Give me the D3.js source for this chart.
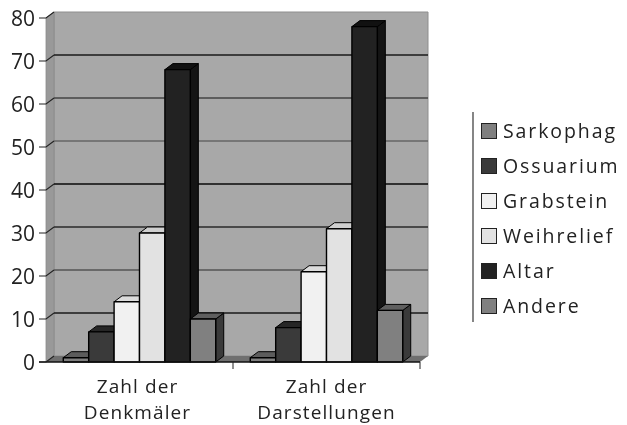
<!DOCTYPE html>
<html><head><meta charset="utf-8">
<script src="https://cdn.jsdelivr.net/npm/d3@7"></script>
<style>html,body{margin:0;background:#fff}svg{display:block;font-family:"Open Sans",sans-serif;filter:blur(.45px)}</style>
</head><body><svg id="c" width="627" height="425"></svg>
<script>
const categories=[["Zahl der","Denkmäler"],["Zahl der","Darstellungen"]];
const seriesNames=["Sarkophag","Ossuarium","Grabstein","Weihrelief","Altar","Andere"];
const denkmaeler=[1,7,14,30,68,10];
const darstellungen=[1,8,21,31,78,12];
const yTicks=[0,10,20,30,40,50,60,70,80];
const fronts=["#7f7f7f","#3a3a3a","#f1f1f1","#e2e2e2","#222222","#808080"];
const tops=["#5c5c5c","#262626","#dcdcdc","#cfcfcf","#111111","#5f5f5f"];
const sides=["#3c3c3c","#1f1f1f","#8c8c8c","#8a8a8a","#141414","#3a3a3a"];
const dx=8,dy=-6;
const svg=d3.select("#c");
const y=d3.scaleLinear().domain([0,80]).range([362,18]);
const x0=d3.scaleBand().domain([0,1]).range([46,420]);
const x1=d3.scaleBand().domain(d3.range(seriesNames.length)).range([0,x0.bandwidth()]).paddingOuter(.68).paddingInner(0);
const poly=(pts,f,s,w)=>svg.append("polygon").attr("points",pts.map(p=>p.join(",")).join(" ")).attr("fill",f).attr("stroke",s||"none").attr("stroke-width",w||0).attr("stroke-linejoin","round");
const L=x0.range()[0],R=x0.range()[1],B=y(0),T=y(80);
poly([[L+dx,T+dy],[R+dx,T+dy],[R+dx,B+dy],[L+dx,B+dy]],"#a8a8a8","#8e8e8e",1);
poly([[L,T],[L+dx,T+dy],[L+dx,B+dy],[L,B]],"#999999","#8a8a8a",.8);
poly([[L,B],[L+dx,B+dy],[R+dx,B+dy],[R,B]],"#6f6f6f");
const gridStroke={10:"#1a1a1a",20:"#555",30:"#2a2a2a",40:"#0a0a0a",50:"#666",60:"#444",70:"#1a1a1a"};
yTicks.filter(t=>t>0&&t<80).forEach(t=>svg.append("line").attr("x1",L+dx).attr("x2",R+dx).attr("y1",y(t)+dy).attr("y2",y(t)+dy).attr("stroke",gridStroke[t]).attr("stroke-width",1.4));
[denkmaeler,darstellungen].forEach((vals,g)=>{
  vals.forEach((v,i)=>{
    const a=x0(g)+x1(i),b=a+x1.bandwidth(),t=y(v);
    poly([[b,t],[b+dx,t+dy],[b+dx,B+dy],[b,B]],sides[i],"#000",1);
    poly([[a,t],[a+dx,t+dy],[b+dx,t+dy],[b,t]],tops[i],"#000",1);
    poly([[a,t],[b,t],[b,B],[a,B]],fronts[i],"#000",1.4);
  });
});
svg.append("line").attr("x1",39).attr("x2",R).attr("y1",B).attr("y2",B).attr("stroke","#111").attr("stroke-width",1.4);
yTicks.forEach(t=>{
  svg.append("path").attr("d",`M39,${y(t)}H${L}L${L+dx},${y(t)+dy}`).attr("fill","none").attr("stroke","#222").attr("stroke-width",1.1);
  svg.append("text").attr("x",35).attr("y",y(t)+7.5).attr("text-anchor","end").attr("font-size",21).attr("fill","#222").text(t);
});
[1,2].forEach(i=>svg.append("line").attr("x1",L+i*x0.step()).attr("x2",L+i*x0.step()).attr("y1",B).attr("y2",B+7).attr("stroke","#222"));
categories.forEach((c,g)=>{
  c.forEach((s,k)=>svg.append("text").attr("x",x0(g)+x0.bandwidth()/2-(g?0:2)).attr("y",393+k*25.5).attr("text-anchor","middle").attr("font-size",19).attr("letter-spacing",1.1).attr("fill","#222").text(s));
});
const ly=d3.scalePoint().domain(seriesNames).range([131,306]);
svg.append("line").attr("x1",473).attr("x2",473).attr("y1",112).attr("y2",322).attr("stroke","#444").attr("stroke-width",1.3);
seriesNames.forEach((n,i)=>{
  svg.append("rect").attr("x",481.5).attr("y",ly(n)-7.5).attr("width",15).attr("height",15).attr("fill",fronts[i]).attr("stroke","#222").attr("stroke-width",1);
  svg.append("text").attr("x",503).attr("y",ly(n)+6.5).attr("font-size",19.5).attr("letter-spacing",1.9).attr("fill","#222").text(n);
});
</script></body></html>
